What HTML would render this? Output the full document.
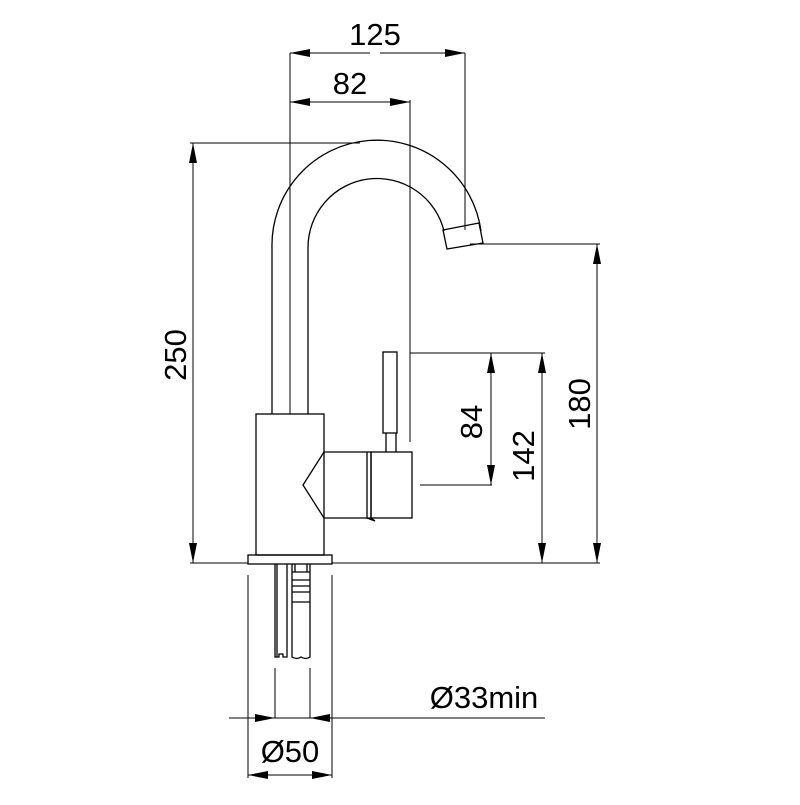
<!DOCTYPE html>
<html><head><style>html,body{margin:0;padding:0;background:#fff}</style></head><body>
<svg width="800" height="800" viewBox="0 0 800 800" xmlns="http://www.w3.org/2000/svg">
<defs>
<marker id="a" viewBox="0 0 20 8" refX="20" refY="4" markerWidth="20" markerHeight="8" markerUnits="userSpaceOnUse" orient="auto"><path d="M0,0 L20,4 L0,8 Z" fill="#000"/></marker>
</defs>
<g fill="none" stroke="#000" stroke-width="1.3">
<path d="M272,414 L272,248 A105,105 0 0 1 481,231"/>
<path d="M308,414 L308,248 A69,69 0 0 1 444,231"/>
<path d="M443,230 L479,223 L483,243 L447,249 Z"/>
<rect x="256" y="414" width="68" height="141"/>
<rect x="248" y="555" width="84" height="9"/>
<path d="M324,452 L303,485 L324,518 L367,518 L367,452 Z"/>
<path d="M367,452 L371,452 L371,518 L367,518"/>
<path d="M367,518 L375,521 L371,518"/>
<rect x="371" y="452" width="41" height="66"/>
<rect x="383" y="352" width="14" height="81"/>
<path d="M386,433 L386,452 M396,433 L396,452"/>
<path d="M275,564 L275,657 L279,657 L279,654 L283,654 L283,657 L287,657 L287,564 M277,564 L277,657"/>
<path d="M292,564 L292,657 Q297,660 301,657 Q306,660 310,657 L310,564 M292,572 L310,572 M292,580 L310,580 M292,586 L310,586 M292,592 L310,592 M292,602 L310,602 M295,564 L295,572 M307,564 L307,572"/>
</g>
<g fill="none" stroke="#000" stroke-width="1">
<path d="M290,53 L290,414 M465,53 L465,230"/>
<path d="M410,100 L410,442"/>
<path d="M190,143 L360,143"/>
<path d="M190,563 L248,563 M332,563 L600,563"/>
<path d="M470,244 L600,244"/>
<path d="M410,353 L545,353"/>
<path d="M420,485 L492,485"/>
<path d="M248,575 L248,778 M332,575 L332,778"/>
<path d="M275,668 L275,718 M310,668 L310,718"/>
<path d="M229,718 L545,718"/>
</g>
<g stroke="#000" stroke-width="1">
<line x1="370" y1="53" x2="290" y2="53" marker-end="url(#a)"/>
<line x1="380" y1="53" x2="465" y2="53" marker-end="url(#a)"/>
<line x1="350" y1="102" x2="290" y2="102" marker-end="url(#a)"/>
<line x1="350" y1="102" x2="410" y2="102" marker-end="url(#a)"/>
<line x1="193" y1="350" x2="193" y2="143" marker-end="url(#a)"/>
<line x1="193" y1="350" x2="193" y2="563" marker-end="url(#a)"/>
<line x1="597" y1="400" x2="597" y2="244" marker-end="url(#a)"/>
<line x1="597" y1="400" x2="597" y2="563" marker-end="url(#a)"/>
<line x1="542" y1="450" x2="542" y2="353" marker-end="url(#a)"/>
<line x1="542" y1="450" x2="542" y2="563" marker-end="url(#a)"/>
<line x1="491" y1="420" x2="491" y2="353" marker-end="url(#a)"/>
<line x1="491" y1="420" x2="491" y2="485" marker-end="url(#a)"/>
<line x1="250" y1="718" x2="275" y2="718" marker-end="url(#a)"/>
<line x1="335" y1="718" x2="310" y2="718" marker-end="url(#a)"/>
<line x1="290" y1="775" x2="248" y2="775" marker-end="url(#a)"/>
<line x1="290" y1="775" x2="332" y2="775" marker-end="url(#a)"/>
</g>
<g font-family="Liberation Sans, sans-serif" font-size="31" fill="#000" text-anchor="middle">
<text x="375" y="45">125</text>
<text x="350" y="94">82</text>
<text x="290" y="762">Ø50</text>
<text x="484" y="708">Ø33min</text>
<text transform="translate(186,355) rotate(-90)">250</text>
<text transform="translate(590,404) rotate(-90)">180</text>
<text transform="translate(534,456) rotate(-90)">142</text>
<text transform="translate(482,422) rotate(-90)">84</text>
</g>
</svg>
</body></html>
